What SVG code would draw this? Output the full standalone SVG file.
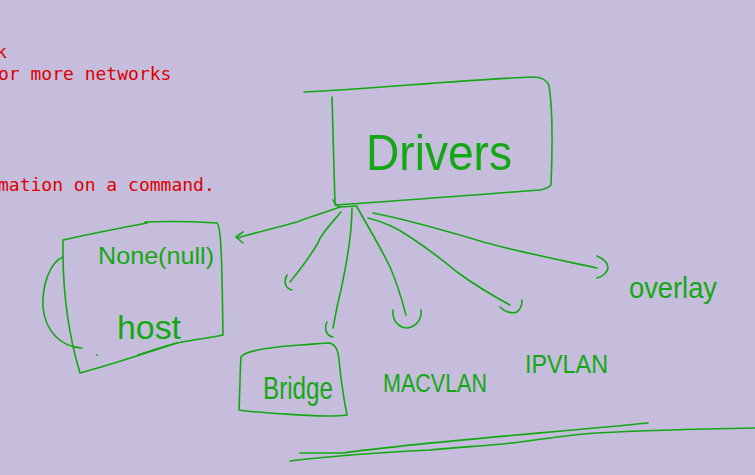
<svg xmlns="http://www.w3.org/2000/svg" width="755" height="475" viewBox="0 0 755 475">
<style>
.bg{fill:#c5bddb}
.red{fill:#dd0000;font-family:"DejaVu Sans Mono",monospace;font-size:18px}
.ink{fill:none;stroke:#13a813;stroke-width:1.6;stroke-linecap:round;stroke-linejoin:round}
.lbl{fill:#13a813;font-family:"Liberation Sans",sans-serif}
</style>
<rect class="bg" x="0" y="0" width="755" height="475"/>
<g id="notes">
<text class="red" x="-4" y="58">k</text>
<text class="red" x="-2" y="80">or more networks</text>
<text class="red" x="-2" y="191">mation on a command.</text>
</g>
<g id="drivers">
<path class="ink" d="M304,92 C380,88 460,80 533,77 C542,77 547,80 549,86 C553,110 552,160 551,185 C548,188 545,189 540,190 C470,195 400,201 335,205 C334,170 333,130 332,97"/>
<text class="lbl" x="366" y="170" font-size="50" textLength="146" lengthAdjust="spacingAndGlyphs">Drivers</text>
</g>
<g id="none-host">
<path class="ink" d="M63,240 C90,234 120,228 147,223 M145,222 C170,221 200,222 217,223 C222,226 222,280 223,335 C210,338 190,340 177,343 C140,355 110,365 80,373 C70,340 62,300 63,240"/>
<path class="ink" d="M63,257 C50,262 42,285 43,307 C45,330 60,347 82,348"/>
<path class="ink" d="M138,355 C150,351 165,346 177,343"/>
<circle cx="97" cy="355" r="0.9" fill="#13a813"/>
<text class="lbl" x="98" y="264" font-size="24" textLength="116" lengthAdjust="spacingAndGlyphs">None(null)</text>
<text class="lbl" x="117" y="339" font-size="34" textLength="64" lengthAdjust="spacingAndGlyphs">host</text>
</g>
<g id="bridge">
<path class="ink" d="M241,357 C245,350 280,346 300,345 C315,344 325,343 330,343 C336,345 338,350 339,360 C341,380 344,400 347,415 C320,418 290,414 270,413 C255,412 245,411 239,410 C240,390 240,370 241,357"/>
<text class="lbl" x="263" y="399" font-size="32" textLength="70" lengthAdjust="spacingAndGlyphs">Bridge</text>
</g>
<g id="macvlan">
<text class="lbl" x="383" y="392" font-size="26" textLength="104" lengthAdjust="spacingAndGlyphs">MACVLAN</text>
</g>
<g id="ipvlan">
<text class="lbl" x="525" y="373" font-size="26" textLength="83" lengthAdjust="spacingAndGlyphs">IPVLAN</text>
</g>
<g id="overlay">
<text class="lbl" x="629" y="298" font-size="30" textLength="88" lengthAdjust="spacingAndGlyphs">overlay</text>
</g>
<g id="connectors">
<path class="ink" d="M333,200 C335,204 337,206 340,207 L357,206"/>
<path class="ink" d="M340,207 C320,214 300,220 297,222 C275,228 255,233 237,238 M243,232 L236,237 L243,243"/>
<path class="ink" d="M341,212 C330,225 320,235 318,243 C308,260 298,272 290,282 M287,275 C284,280 284,288 292,290"/>
<path class="ink" d="M352,208 C352,240 345,270 341,290 C337,305 335,318 333,328 M327,322 C324,328 326,336 333,337"/>
<path class="ink" d="M357,207 C370,230 382,250 390,267 C398,285 402,300 406,315 M393,310 C392,320 398,328 408,328 C416,326 422,320 421,310"/>
<path class="ink" d="M368,218 C385,222 400,230 410,237 C430,250 445,262 457,272 C475,285 495,297 510,305 M500,307 C505,312 512,314 517,312 C521,309 522,304 522,300"/>
<path class="ink" d="M373,213 C410,220 450,232 487,243 C520,252 560,260 597,268 M597,256 C604,259 608,263 608,268 C607,273 602,277 597,278"/>
</g>
<g id="underline">
<path class="ink" d="M300,453 L343,453 C420,442 560,432 648,423"/>
<path class="ink" d="M290,461 C340,455 390,452 430,450 C460,447 500,445 520,442 C550,438 575,434 597,433 C650,430 700,429 755,428"/>
</g>
</svg>
